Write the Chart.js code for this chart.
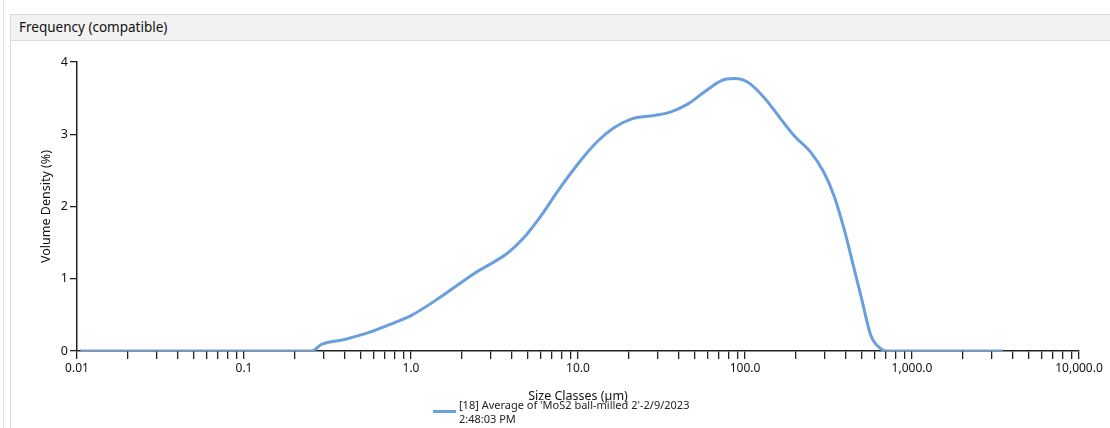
<!DOCTYPE html>
<html>
<head>
<meta charset="utf-8">
<script src="https://cdn.jsdelivr.net/npm/chart.js@4.4.1/dist/chart.umd.min.js"></script>
<style>
  body { margin: 0; background: #fff; font-family: "Noto Sans", "Open Sans", sans-serif; }
  .page { position: relative; width: 1110px; height: 428px; overflow: hidden; }
  .outer { position: absolute; left: 3px; top: 0; width: 1px; height: 428px; background: #e4e4e4; }
  .panel { position: absolute; left: 10px; top: 14px; width: 1100px; height: 414px; border-left: 1px solid #d9d9d9; border-top: 1px solid #d9d9d9; }
  .head { height: 25px; background: #f2f2f2; border-bottom: 1px solid #dcdcdc; font-size: 13.5px; color: #111; line-height: 25px; padding-left: 8px; }
  .holder { position: absolute; left: 0; top: 26px; width: 1100px; height: 388px; }
  .legend { position: absolute; left: 422px; top: 383px; font-size: 11px; color: #222; line-height: 14px; }
  .legend .swatch { position: absolute; left: 0; top: 12px; width: 23px; height: 3px; background: #6a9fdd; }
  .legend .txt { margin-left: 26px; }
</style>
</head>
<body>
<div class="page">
  <div class="outer"></div>
  <div class="panel">
    <div class="head">Frequency (compatible)</div>
    <div class="holder"><canvas id="myChart" width="1100" height="388"></canvas></div>
    <div class="legend"><div class="swatch"></div><div class="txt">[18] Average of 'MoS2 ball-milled 2'-2/9/2023<br>2:48:03 PM</div></div>
  </div>
</div>
<script>
// size classes (um) and volume density (%)
var sizeClasses = [0.0105, 0.05, 0.1, 0.2, 0.255, 0.29, 0.4, 0.55, 0.79, 1.0, 1.51, 2.38, 3.81, 4.75, 6.0, 7.6,
  10.4, 13.2, 16.4, 20.8, 28.5, 36, 45.6, 56.8, 71.8, 86, 104, 130, 164, 197, 248, 297, 341, 392, 450, 495,
  568, 652, 720, 1000, 2000, 3500];
var volumeDensity = [0, 0, 0, 0, 0, 0.09, 0.16, 0.25, 0.39, 0.49, 0.75, 1.07, 1.36, 1.57, 1.87, 2.22,
  2.64, 2.91, 3.09, 3.21, 3.26, 3.31, 3.42, 3.58, 3.74, 3.77, 3.72, 3.51, 3.21, 2.98, 2.75, 2.47, 2.15, 1.69, 1.14, 0.76,
  0.21, 0.03, 0, 0, 0, 0];
var majorTicks = [0.01, 0.1, 1, 10, 100, 1000, 10000];
var majorLabels = ['0.01', '0.1', '1.0', '10.0', '100.0', '1,000.0', '10,000.0'];
var yTicks = [0, 1, 2, 3, 4];
var seriesName = "[18] Average of 'MoS2 ball-milled 2'-2/9/2023 2:48:03 PM";

var pts = [];
for (var i = 0; i < sizeClasses.length; i++) pts.push({ x: sizeClasses[i], y: volumeDensity[i] });

var fontFam = '"Noto Sans", "Open Sans", sans-serif';
var ctx = document.getElementById('myChart').getContext('2d');
var myChart = new Chart(ctx, {
  type: 'line',
  data: {
    datasets: [{
      label: seriesName,
      data: pts,
      borderColor: '#6a9fdd',
      borderWidth: 3,
      pointRadius: 0,
      cubicInterpolationMode: 'monotone',
      fill: false
    }]
  },
  options: {
    responsive: false,
    animation: false,
    layout: { padding: { top: 21, right: 32, bottom: 25, left: 0 } },
    plugins: { legend: { display: false }, tooltip: { enabled: false } },
    scales: {
      x: {
        type: 'logarithmic',
        min: 0.01,
        max: 10000,
        afterBuildTicks: function (scale) {
          var t = [];
          for (var e = -2; e < 4; e++) {
            for (var m = 1; m < 10; m++) t.push({ value: m * Math.pow(10, e) });
          }
          t.push({ value: 10000 });
          scale.ticks = t;
        },
        afterFit: function (scale) { scale.height = 53; },
        border: { display: true, color: '#222', width: 1.5 },
        grid: { drawOnChartArea: false, drawTicks: true, tickLength: 8, color: '#222', lineWidth: 1.3 },
        ticks: {
          autoSkip: false, maxRotation: 0, padding: 2, color: '#111',
          font: { family: fontFam, size: 12 },
          callback: function (v) {
            for (var k = 0; k < majorTicks.length; k++) {
              if (Math.abs(v - majorTicks[k]) < majorTicks[k] * 1e-6) return majorLabels[k];
            }
            return '';
          }
        },
        title: { display: true, text: 'Size Classes (µm)', color: '#111', padding: { top: 4, bottom: 0 }, font: { family: fontFam, size: 12.5 } }
      },
      y: {
        min: 0,
        max: 4,
        afterBuildTicks: function (scale) { scale.ticks = yTicks.map(function (v) { return { value: v }; }); },
        afterFit: function (scale) { scale.width = 66; },
        border: { display: true, color: '#222', width: 1.5 },
        grid: { drawOnChartArea: false, drawTicks: true, tickLength: 7, color: '#222', lineWidth: 1.3 },
        ticks: { padding: 2, color: '#111', font: { family: fontFam, size: 12.5 } },
        title: { display: true, text: 'Volume Density (%)', color: '#111', padding: { top: 28, bottom: 4 }, font: { family: fontFam, size: 12.5 } }
      }
    }
  }
});
</script>
</body>
</html>
